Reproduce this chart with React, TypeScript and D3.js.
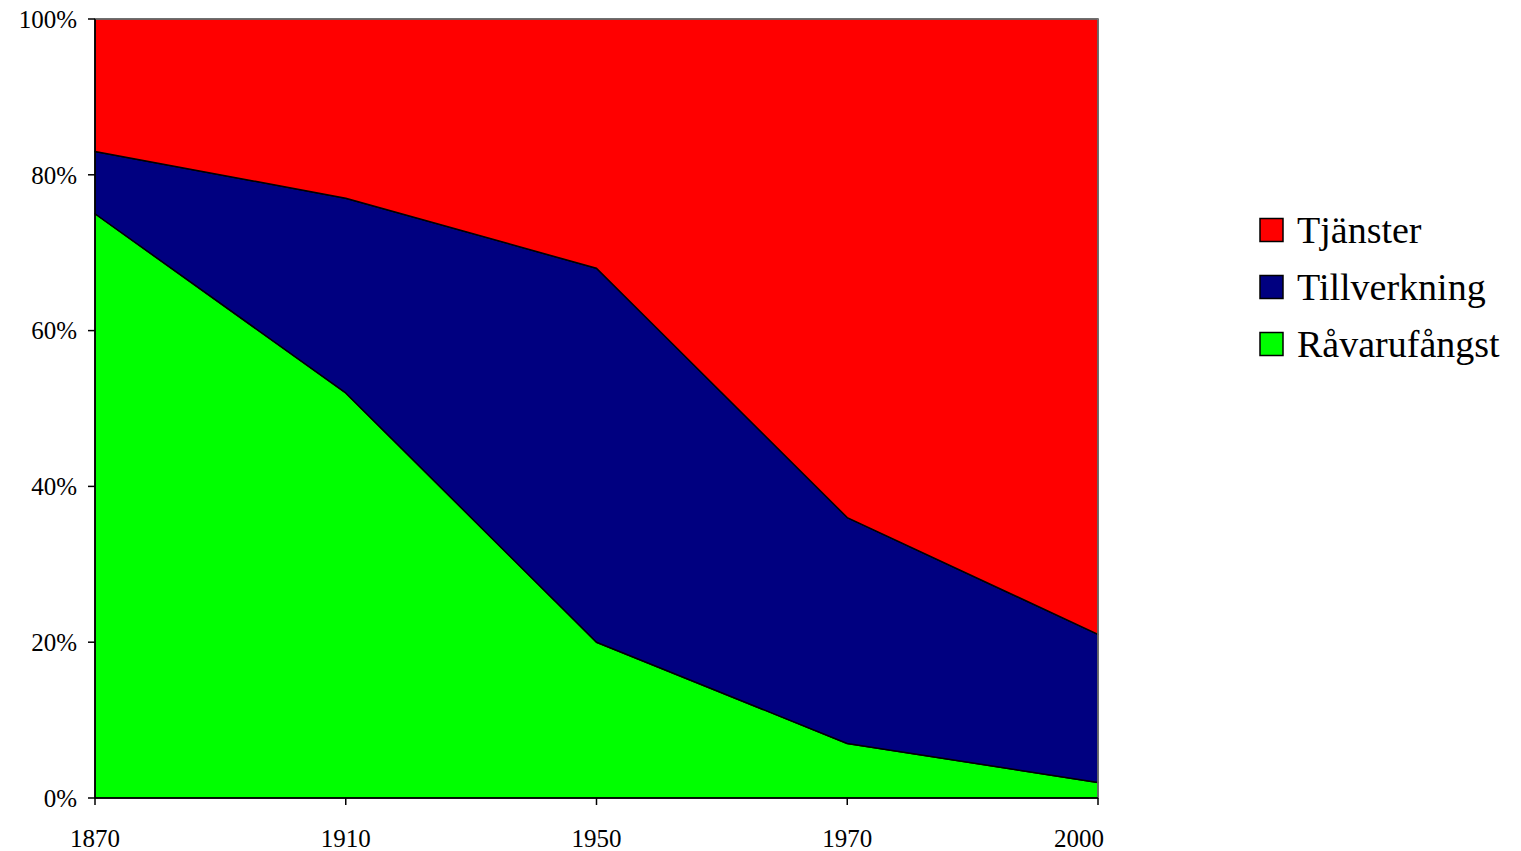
import React from "react";
import * as d3 from "d3";

const years = ["1870", "1910", "1950", "1970", "2000"];
const ravarufangst = [75, 52, 20, 7, 2];
const tillverkning = [8, 25, 48, 29, 19];
const tjanster = [17, 23, 32, 64, 79];
const yTicks = [0, 20, 40, 60, 80, 100];
const seriesNames = ["Råvarufångst", "Tillverkning", "Tjänster"];
const seriesColors = ["#00FF00", "#000080", "#FF0000"];

export default function App() {
  const W = 1521, H = 851;
  const left = 95, right = 1098, top = 19, bottom = 798;
  const x = d3.scalePoint<string>().domain(years).range([left, right]);
  const y = d3.scaleLinear().domain([0, 100]).range([bottom, top]);
  const rows = years.map((yr, i) => ({
    year: yr,
    "Råvarufångst": ravarufangst[i],
    "Tillverkning": tillverkning[i],
    "Tjänster": tjanster[i],
  }));
  const stack = d3.stack<any>().keys(seriesNames);
  const layers = stack(rows);
  const area = d3
    .area<any>()
    .x((d) => x(d.data.year)!)
    .y0((d) => y(d[0]))
    .y1((d) => y(d[1]));
  const font = "'Liberation Serif', 'Times New Roman', serif";
  const legendOrder = [2, 1, 0];
  return (
    <svg width={W} height={H} style={{ position: "absolute", left: 0, top: 0 }}>
      <rect x={0} y={0} width={W} height={H} fill="#fff" />
      {layers.map((l, i) => (
        <path key={i} d={area(l)!} fill={seriesColors[i]} stroke="#000" strokeWidth={1.5} strokeLinejoin="round" />
      ))}
      <line x1={left} x2={right} y1={top} y2={top} stroke="#808080" strokeWidth={1.5} />
      <line x1={right} x2={right} y1={top} y2={bottom} stroke="#808080" strokeWidth={1.5} />
      <line x1={left} x2={left} y1={top} y2={bottom} stroke="#000" strokeWidth={1.5} />
      <line x1={left} x2={right} y1={bottom} y2={bottom} stroke="#000" strokeWidth={1.5} />
      {yTicks.map((t) => (
        <g key={t}>
          <line x1={left - 7} x2={left} y1={y(t)} y2={y(t)} stroke="#000" strokeWidth={1.5} />
          <text x={77} y={y(t)} dy="0.35em" textAnchor="end" fontFamily={font} fontSize={25} fill="#000">
            {t}%
          </text>
        </g>
      ))}
      {years.map((yr, i) => {
        const last = i === years.length - 1;
        return (
          <g key={yr}>
            <line x1={x(yr)} x2={x(yr)} y1={bottom} y2={bottom + 7} stroke="#000" strokeWidth={1.5} />
            <text
              x={last ? x(yr)! + 6 : x(yr)}
              y={847}
              textAnchor={last ? "end" : "middle"}
              fontFamily={font}
              fontSize={25}
              fill="#000"
            >
              {yr}
            </text>
          </g>
        );
      })}
      {legendOrder.map((si, k) => {
        const cy = 230 + k * 57;
        return (
          <g key={si}>
            <rect x={1260} y={cy - 11.5} width={23} height={23} fill={seriesColors[si]} stroke="#000" strokeWidth={1.5} />
            <text x={1297} y={cy} dy="0.35em" fontFamily={font} fontSize={38} fill="#000">
              {seriesNames[si]}
            </text>
          </g>
        );
      })}
    </svg>
  );
}
